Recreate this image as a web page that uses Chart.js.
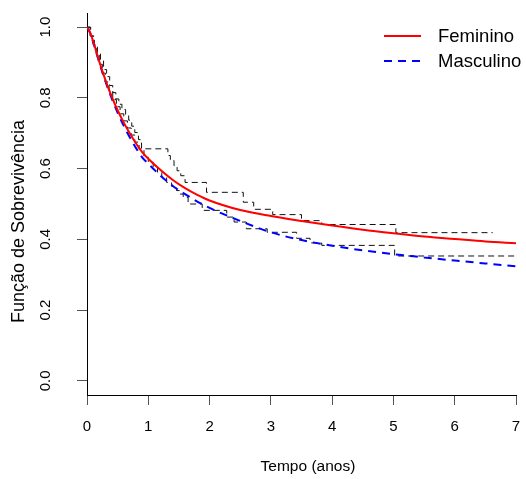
<!DOCTYPE html>
<html>
<head>
<meta charset="utf-8">
<script src="https://cdn.jsdelivr.net/npm/chart.js@4"></script>
<style>
  body { margin: 0; background: #fff; }
  #wrap { width: 526px; height: 479px; }
</style>
</head>
<body>
<div id="wrap"><canvas id="sobrevChart" width="526" height="479"></canvas></div>
<script>
// curvas ajustadas
const tempo = [0, 0.05, 0.1, 0.2, 0.3, 0.4, 0.5, 0.6, 0.7, 0.8, 0.9, 1.0, 1.2, 1.4, 1.6, 1.8, 2.0, 2.5, 3, 3.5, 4, 4.5, 5, 5.5, 6, 6.5, 7];
const femCurva = [1.0, 0.985, 0.96, 0.903, 0.851, 0.805, 0.765, 0.73, 0.699, 0.671, 0.647, 0.628, 0.596, 0.568, 0.545, 0.526, 0.51, 0.483, 0.466, 0.452, 0.439, 0.427, 0.417, 0.408, 0.401, 0.394, 0.389];
const mascCurva = [1.0, 0.984, 0.958, 0.9, 0.847, 0.8, 0.758, 0.721, 0.688, 0.658, 0.632, 0.614, 0.58, 0.551, 0.528, 0.507, 0.489, 0.452, 0.42, 0.398, 0.382, 0.369, 0.358, 0.349, 0.34, 0.332, 0.324];

// Kaplan-Meier (degraus)
const kmFemTempo = [0, 0.06, 0.12, 0.17, 0.22, 0.27, 0.32, 0.37, 0.42, 0.47, 0.52, 0.57, 0.63, 0.68, 0.73, 0.78, 0.84, 0.89, 1.32, 1.36, 1.42, 1.47, 1.53, 1.6, 1.95, 2.55, 2.72, 3.03, 3.5, 3.83, 5.04, 6.62];
const kmFemSobrev = [1.0, 0.975, 0.95, 0.928, 0.905, 0.88, 0.86, 0.835, 0.815, 0.797, 0.782, 0.767, 0.752, 0.737, 0.72, 0.702, 0.682, 0.656, 0.637, 0.623, 0.608, 0.594, 0.58, 0.561, 0.533, 0.505, 0.485, 0.47, 0.453, 0.442, 0.419, 0.419];
const kmMascTempo = [0, 0.05, 0.1, 0.15, 0.2, 0.25, 0.3, 0.36, 0.42, 0.48, 0.54, 0.6, 0.66, 0.72, 0.78, 0.85, 0.93, 1.0, 1.08, 1.15, 1.22, 1.3, 1.38, 1.46, 1.52, 1.57, 1.65, 1.88, 2.28, 2.4, 2.6, 2.94, 3.42, 3.64, 3.83, 5.02, 7];
const kmMascSobrev = [1.0, 0.975, 0.95, 0.925, 0.895, 0.87, 0.845, 0.82, 0.795, 0.775, 0.755, 0.735, 0.715, 0.695, 0.675, 0.655, 0.632, 0.618, 0.604, 0.59, 0.576, 0.561, 0.55, 0.538, 0.528, 0.519, 0.5, 0.482, 0.463, 0.449, 0.43, 0.42, 0.403, 0.39, 0.383, 0.353, 0.353];

const xTicks = [0, 1, 2, 3, 4, 5, 6, 7];
const yTicks = [0, 0.2, 0.4, 0.6, 0.8, 1.0];
const legendaNomes = ["Feminino", "Masculino"];

const FONTE = "'Liberation Sans', Arial, sans-serif";

function pares(xs, ys) {
  return xs.map((x, i) => ({ x: x, y: ys[i] }));
}

// legenda no canto, sem caixa (como no R)
const legendaR = {
  id: "legendaR",
  afterDraw(chart) {
    const ctx = chart.ctx;
    ctx.save();
    legendaNomes.forEach((nome, i) => {
      const ds = chart.data.datasets[i];
      const y = 36 + i * 25;
      ctx.beginPath();
      ctx.strokeStyle = ds.borderColor;
      ctx.lineWidth = ds.borderWidth;
      ctx.setLineDash(ds.borderDash || []);
      ctx.moveTo(384, y);
      ctx.lineTo(421, y);
      ctx.stroke();
      ctx.setLineDash([]);
      ctx.fillStyle = "#000";
      ctx.font = "18.5px " + FONTE;
      ctx.textBaseline = "middle";
      ctx.textAlign = "left";
      ctx.fillText(nome, 438, y + 1);
    });
    ctx.restore();
  },
};

document.addEventListener("DOMContentLoaded", () => {
  const ctx = document.getElementById("sobrevChart").getContext("2d");
  new Chart(ctx, {
    type: "line",
    data: {
      datasets: [
        {
          label: legendaNomes[0],
          data: pares(tempo, femCurva),
          borderColor: "#ff0000",
          borderWidth: 2,
          pointRadius: 0,
          cubicInterpolationMode: "monotone",
        },
        {
          label: legendaNomes[1],
          data: pares(tempo, mascCurva),
          borderColor: "#0000ff",
          borderWidth: 2,
          borderDash: [8, 6],
          pointRadius: 0,
          cubicInterpolationMode: "monotone",
        },
        {
          label: "KM Feminino",
          data: pares(kmFemTempo, kmFemSobrev),
          borderColor: "#111",
          borderWidth: 1,
          borderDash: [6, 4],
          pointRadius: 0,
          stepped: "before",
        },
        {
          label: "KM Masculino",
          data: pares(kmMascTempo, kmMascSobrev),
          borderColor: "#111",
          borderWidth: 1,
          borderDash: [6, 4],
          pointRadius: 0,
          stepped: "before",
        },
      ],
    },
    options: {
      responsive: false,
      animation: false,
      devicePixelRatio: 1,
      layout: { padding: { top: 13, right: 10, left: 0, bottom: 0 } },
      plugins: {
        legend: { display: false },
        tooltip: { enabled: false },
      },
      scales: {
        x: {
          type: "linear",
          min: 0,
          max: 7,
          afterBuildTicks: (scale) => {
            scale.ticks = xTicks.map((v) => ({ value: v }));
          },
          afterFit: (scale) => {
            scale.height = 84;
            scale.paddingLeft = 0;
            scale.paddingRight = 0;
          },
          grid: { drawOnChartArea: false, drawTicks: true, tickLength: 10, tickColor: "#555" },
          border: { display: true, color: "#000", width: 1 },
          ticks: {
            color: "#000",
            padding: 13,
            maxRotation: 0,
            font: { family: FONTE, size: 15 },
            callback: (v) => String(v),
          },
          title: {
            display: true,
            text: "   Tempo (anos)",
            color: "#000",
            font: { family: FONTE, size: 15.5 },
            padding: { top: 0, bottom: 3 },
          },
        },
        y: {
          type: "linear",
          min: -0.04,
          max: 1.04,
          afterBuildTicks: (scale) => {
            scale.ticks = yTicks.map((v) => ({ value: v }));
          },
          afterFit: (scale) => {
            scale.width = 87;
            scale.paddingTop = 0;
            scale.paddingBottom = 0;
          },
          grid: { drawOnChartArea: false, drawTicks: true, tickLength: 10, tickColor: "#555" },
          border: { display: true, color: "#000", width: 1 },
          ticks: {
            color: "#000",
            padding: 21,
            minRotation: 90,
            maxRotation: 90,
            crossAlign: "center",
            font: { family: FONTE, size: 15 },
            callback: (v) => v.toFixed(1),
          },
          title: {
            display: true,
            text: "Função de Sobrevivência       ",
            color: "#000",
            font: { family: FONTE, size: 18 },
            padding: { top: 8, bottom: 0 },
          },
        },
      },
    },
    plugins: [legendaR],
  });
});
</script>
</body>
</html>
